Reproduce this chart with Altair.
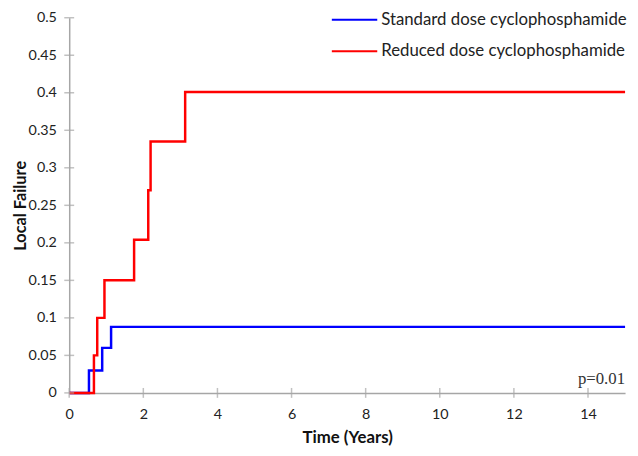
import altair as alt
import pandas as pd

# Standard dose cyclophosphamide (blue)
std_time = [0, 0.533, 0.89, 1.13, 15]
std_fail = [0, 0.03, 0.06, 0.088, 0.088]
# Reduced dose cyclophosphamide (red)
red_time = [0, 0.667, 0.756, 0.951, 1.751, 2.133, 2.196, 3.129, 15]
red_fail = [0, 0.05, 0.10, 0.15, 0.204, 0.27, 0.335, 0.401, 0.401]

series = ["Standard dose cyclophosphamide", "Reduced dose cyclophosphamide"]
colors = ["#0000ff", "#ff0000"]
x_ticks = [0, 2, 4, 6, 8, 10, 12, 14]
y_ticks = [0, 0.05, 0.1, 0.15, 0.2, 0.25, 0.3, 0.35, 0.4, 0.45, 0.5]
p_label = ["p=0.01"]

df = pd.concat([
    pd.DataFrame({"time": std_time, "fail": std_fail, "group": series[0]}),
    pd.DataFrame({"time": red_time, "fail": red_fail, "group": series[1]}),
])

FONT = "Lato"
AX = "#a6a6a6"
xs = alt.Scale(domain=[0, 15], nice=False)
ys = alt.Scale(domain=[0, 0.5], nice=False)
x_axis = alt.Axis(values=x_ticks, title="Time (Years)", format="d")
y_axis = alt.Axis(values=y_ticks, title="Local Failure", format="~g",
                  titleX=-41, titleY=190, titleAngle=-90, titleBaseline="bottom",
                  titleAlign="center", titleFontSize=16.5)

lines = alt.Chart(df).mark_line(interpolate="step-after", strokeWidth=2.5).encode(
    x=alt.X("time:Q", scale=xs, axis=x_axis),
    y=alt.Y("fail:Q", scale=ys, axis=y_axis),
    color=alt.Color("group:N", scale=alt.Scale(domain=series, range=colors),
                    legend=alt.Legend(title=None, orient="none", legendX=265, legendY=-22,
                                      symbolType="M-1,0H1", symbolSize=2116, symbolStrokeWidth=2,
                                      labelFontSize=17, labelFont=FONT, labelColor="#222222",
                                      labelOffset=3, rowPadding=-13, padding=0,
                                      labelLimit=400)),
    order=alt.Order("group:N"),
)

ytick_marks = alt.Chart(pd.DataFrame({"v": y_ticks})).mark_tick(
    orient="horizontal", size=10, thickness=1.5, color=AX
).encode(y=alt.Y("v:Q", scale=ys, axis=y_axis), x=alt.value(0))

xtick_marks = alt.Chart(pd.DataFrame({"v": x_ticks})).mark_tick(
    orient="vertical", size=10, thickness=1.5, color=AX
).encode(x=alt.X("v:Q", scale=xs, axis=x_axis), y=alt.value(380))

ptext = alt.Chart(pd.DataFrame({"t": p_label})).mark_text(
    align="right", baseline="middle", font="Liberation Serif", fontSize=17, color="#333333"
).encode(x=alt.value(563), y=alt.value(366), text="t:N")

chart = (lines + ytick_marks + xtick_marks + ptext).properties(
    width=563, height=380,
    autosize=alt.AutoSizeParams(type="none"),
    padding={"left": 62, "top": 7, "right": 5, "bottom": 57},
).configure_view(stroke=None).configure_axis(
    grid=False, domainColor=AX, ticks=False, domainWidth=1.5, labelOverlap=False,
    labelFont=FONT, labelFontSize=14.5, labelColor="#222222",
    titleFont=FONT, titleFontSize=17, titleFontWeight="bold", titleColor="#111111",
).configure_axisY(labelPadding=13).configure_axisX(
    labelPadding=15, titlePadding=9, labelFlush=False)

chart.save("out.html", embed_options={"renderer": "svg", "actions": False})
